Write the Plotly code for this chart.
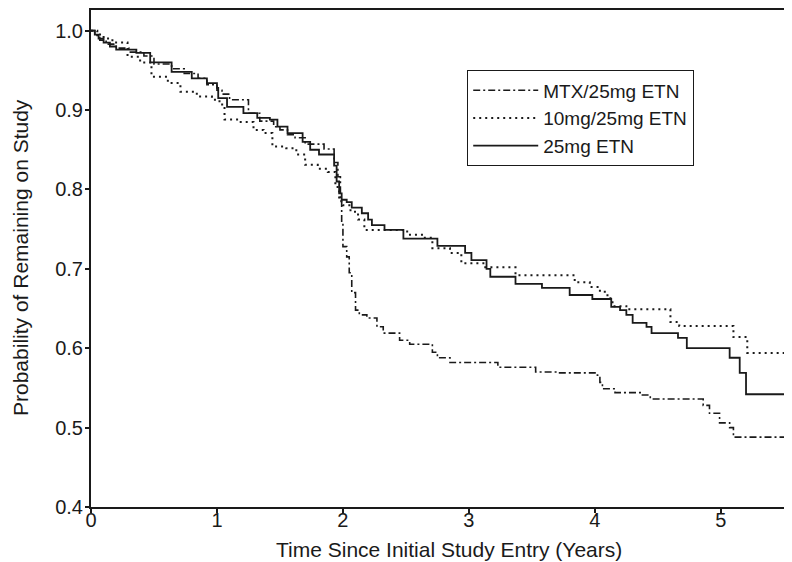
import plotly.graph_objects as go

# ---- data (Kaplan-Meier estimates) ----
mtx_t = [0, 0.03, 0.07, 0.12, 0.20, 0.30, 0.42, 0.50, 0.64, 0.74, 0.85, 0.92, 1.00, 1.04,
         1.10, 1.25, 1.34, 1.45, 1.50, 1.56, 1.62, 1.70, 1.85, 1.93, 1.96, 1.98, 1.99, 2.00,
         2.03, 2.05, 2.07, 2.10, 2.13, 2.19, 2.27, 2.32, 2.45, 2.53, 2.71, 2.75, 2.85, 3.23,
         3.53, 3.72, 4.02, 4.04, 4.06, 4.16, 4.36, 4.44, 4.86, 4.91, 4.99, 5.07, 5.10, 5.57]
mtx_s = [1.0, 0.994, 0.988, 0.983, 0.978, 0.973, 0.968, 0.958, 0.952, 0.946, 0.940, 0.932, 0.925, 0.920,
         0.913, 0.896, 0.886, 0.879, 0.875, 0.869, 0.865, 0.857, 0.851, 0.834, 0.816, 0.787, 0.760, 0.728,
         0.715, 0.695, 0.670, 0.648, 0.642, 0.638, 0.627, 0.619, 0.610, 0.605, 0.595, 0.588, 0.582, 0.576,
         0.570, 0.569, 0.566, 0.557, 0.549, 0.544, 0.541, 0.536, 0.528, 0.518, 0.506, 0.500, 0.488, 0.488]

dot_t = [0, 0.05, 0.10, 0.17, 0.29, 0.39, 0.48, 0.61, 0.71, 0.84, 0.96, 1.02, 1.06, 1.18, 1.29,
         1.37, 1.44, 1.55, 1.63, 1.70, 1.80, 1.88, 1.94, 1.97, 2.00, 2.06, 2.12, 2.17, 2.51, 2.65,
         2.71, 2.85, 2.94, 3.13, 3.37, 3.84, 3.96, 4.04, 4.10, 4.14, 4.25, 4.60, 4.67, 5.10, 5.21, 5.57]
dot_s = [1.0, 0.995, 0.990, 0.985, 0.967, 0.960, 0.942, 0.934, 0.923, 0.917, 0.913, 0.907, 0.888, 0.885, 0.875,
         0.871, 0.854, 0.852, 0.844, 0.831, 0.826, 0.822, 0.803, 0.785, 0.780, 0.772, 0.762, 0.749, 0.743, 0.739,
         0.726, 0.720, 0.707, 0.702, 0.692, 0.683, 0.677, 0.671, 0.663, 0.653, 0.649, 0.633, 0.628, 0.614, 0.594, 0.594]

sol_t = [0, 0.03, 0.06, 0.10, 0.15, 0.20, 0.36, 0.47, 0.64, 0.80, 0.92, 1.00, 1.01, 1.08, 1.21,
         1.32, 1.42, 1.48, 1.56, 1.68, 1.74, 1.81, 1.93, 1.95, 1.97, 1.99, 2.03, 2.07, 2.15, 2.20,
         2.23, 2.33, 2.48, 2.75, 2.97, 3.02, 3.14, 3.17, 3.37, 3.58, 3.80, 3.98, 4.13, 4.20, 4.25,
         4.30, 4.41, 4.45, 4.66, 4.73, 5.07, 5.15, 5.20, 5.57]
sol_s = [1.0, 0.995, 0.990, 0.985, 0.980, 0.976, 0.972, 0.960, 0.948, 0.940, 0.934, 0.928, 0.915, 0.904, 0.896,
         0.890, 0.888, 0.879, 0.871, 0.860, 0.850, 0.844, 0.830, 0.810, 0.795, 0.787, 0.784, 0.777, 0.770, 0.762,
         0.755, 0.749, 0.738, 0.729, 0.720, 0.711, 0.700, 0.690, 0.681, 0.676, 0.667, 0.662, 0.652, 0.648, 0.642,
         0.632, 0.627, 0.619, 0.613, 0.600, 0.588, 0.569, 0.542, 0.542]

names = ["MTX/25mg ETN", "10mg/25mg ETN", "25mg ETN"]
x_ticks = [0, 1, 2, 3, 4, 5]
y_ticks = [0.4, 0.5, 0.6, 0.7, 0.8, 0.9, 1.0]
x_title = "Time Since Initial Study Entry (Years)"
y_title = "Probability of Remaining on Study"

FONT = "Liberation Sans, Arial, sans-serif"
INK = "#1a1a1a"

fig = go.Figure()
fig.add_trace(go.Scatter(x=mtx_t, y=mtx_s, mode="lines", name=names[0],
                         line=dict(shape="hv", dash="7px,3px,2px,3px", width=1.6, color=INK)))
fig.add_trace(go.Scatter(x=dot_t, y=dot_s, mode="lines", name=names[1],
                         line=dict(shape="hv", dash="2px,4px", width=2, color=INK)))
fig.add_trace(go.Scatter(x=sol_t, y=sol_s, mode="lines", name=names[2],
                         line=dict(shape="hv", width=1.8, color=INK)))

# the page body adds an 8px margin, so the figure is sized to the remaining visible area
fig.update_layout(
    width=784, height=554,
    margin=dict(l=83, r=0, t=2, b=55, autoexpand=False),
    paper_bgcolor="white", plot_bgcolor="white",
    font=dict(family=FONT, size=20, color=INK),
    showlegend=True,
    legend=dict(x=0.5364, y=0.879, xanchor="left", yanchor="top",
                bordercolor=INK, borderwidth=1.2, bgcolor="white",
                font=dict(size=19), itemwidth=65, tracegroupgap=0),
    xaxis=dict(range=[0, 5.565], tickvals=x_ticks, ticks="outside", ticklen=4,
               tickcolor=INK, tickwidth=1.5, showline=True, linecolor=INK, linewidth=2, mirror=True,
               showgrid=False, zeroline=False, automargin=False,
               tickfont=dict(size=20), ticklabelstandoff=-10),
    yaxis=dict(range=[0.4, 1.026], tickvals=y_ticks, tickformat=".1f", ticks="outside", ticklen=4,
               tickcolor=INK, tickwidth=1.5, showline=True, linecolor=INK, linewidth=2,
               showgrid=False, zeroline=False, automargin=False,
               tickfont=dict(size=20), ticklabelstandoff=-2),
    annotations=[
        dict(text=x_title, xref="paper", yref="paper", x=0.511, y=-0.0865,
             xanchor="center", yanchor="middle", showarrow=False, font=dict(size=21)),
        dict(text=y_title, xref="paper", yref="paper", x=-0.1013, y=0.503,
             xanchor="center", yanchor="middle", textangle=-90, showarrow=False, font=dict(size=21)),
    ],
)

fig.write_html("out.html")
